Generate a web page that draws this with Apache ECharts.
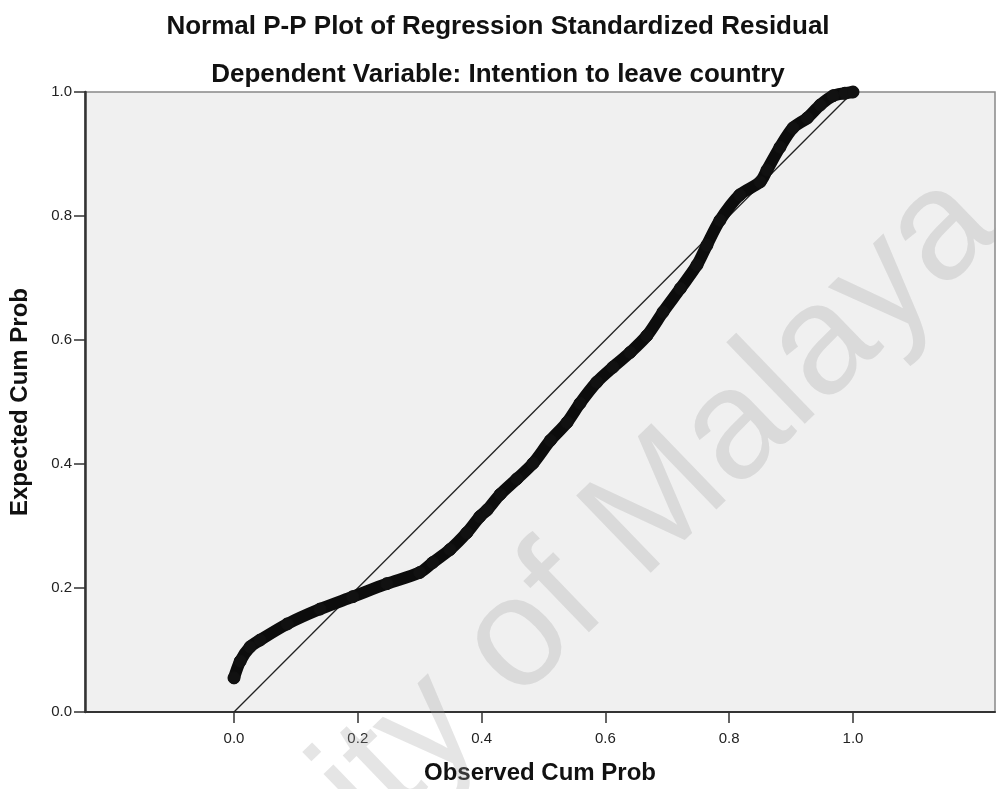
<!DOCTYPE html>
<html>
<head>
<meta charset="utf-8">
<script src="https://cdn.jsdelivr.net/npm/echarts@6/dist/echarts.min.js"></script>
<style>
html,body{margin:0;padding:0;background:#fff;}
#chart{width:996px;height:789px;}
</style>
</head>
<body>
<div id="chart"></div>
<script>
// Observed cumulative probability (x) and expected cumulative probability (y)
const observedCumProb = [0.000,0.010,0.026,0.042,0.086,0.139,0.192,0.247,0.300,0.321,0.349,0.376,0.397,0.409,0.430,0.457,0.483,0.511,0.538,0.559,0.586,0.612,0.640,0.667,0.693,0.721,0.748,0.764,0.785,0.817,0.850,0.861,0.882,0.903,0.926,0.947,0.968,0.987,1.000];
const expectedCumProb = [0.055,0.082,0.105,0.116,0.142,0.166,0.186,0.207,0.225,0.241,0.262,0.289,0.315,0.326,0.351,0.376,0.401,0.438,0.467,0.498,0.532,0.556,0.580,0.607,0.645,0.683,0.721,0.753,0.793,0.834,0.855,0.874,0.911,0.942,0.958,0.979,0.994,0.998,1.000];
const diagonal = [[0,0],[1,1]];
const tickValues = [0.0,0.2,0.4,0.6,0.8,1.0];
const titleText = 'Normal P-P Plot of Regression Standardized Residual';
const subtitleText = 'Dependent Variable: Intention to leave country';
const xName = 'Observed Cum Prob';
const yName = 'Expected Cum Prob';
const watermark = 'University of Malaya';

const pts = observedCumProb.map((x,i)=>[x, expectedCumProb[i]]);
const FONT = '"Liberation Sans", Arial, sans-serif';

const chart = echarts.init(document.getElementById('chart'), null, {renderer:'canvas'});
chart.setOption({
  animation:false,
  backgroundColor:'#ffffff',
  title:[
    {text:titleText, left:'center', top:9, textStyle:{fontFamily:FONT,fontSize:26,fontWeight:'bold',color:'#111'}},
    {text:subtitleText, left:'center', top:57, textStyle:{fontFamily:FONT,fontSize:26,fontWeight:'bold',color:'#111'}}
  ],
  graphic:[{
    type:'text', z:1, silent:true,
    x:-37, y:1177, rotation:44*Math.PI/180,
    style:{text:watermark, font:'156px "Liberation Sans", Arial, sans-serif', fill:'rgba(160,160,160,0.27)', align:'left', verticalAlign:'middle'}
  }],
  grid:{left:85,right:1,top:92,bottom:77,show:true,backgroundColor:'#f0f0f0',borderColor:'#888',borderWidth:1.5,containLabel:false,outerBoundsMode:'none'},
  xAxis:{
    type:'value', min:-0.2407, max:1.2294,
    name:xName, nameLocation:'middle', nameGap:49,
    nameTextStyle:{fontFamily:FONT,fontSize:24,fontWeight:'bold',color:'#111'},
    axisLine:{show:true,onZero:false,lineStyle:{color:'#333',width:2}},
    axisTick:{show:true,length:11,customValues:tickValues,lineStyle:{color:'#333',width:1.5}},
    axisLabel:{customValues:tickValues,formatter:v=>v.toFixed(1),fontFamily:FONT,fontSize:15,color:'#222',margin:19},
    splitLine:{show:false}
  },
  yAxis:{
    type:'value', min:0, max:1, interval:0.2,
    name:yName, nameLocation:'middle', nameGap:53,
    nameTextStyle:{fontFamily:FONT,fontSize:24,fontWeight:'bold',color:'#111'},
    axisLine:{show:true,onZero:false,lineStyle:{color:'#333',width:2.5}},
    axisTick:{show:true,length:11,lineStyle:{color:'#333',width:1.5}},
    axisLabel:{formatter:v=>v.toFixed(1),fontFamily:FONT,fontSize:15,color:'#222',margin:13},
    splitLine:{show:false}
  },
  series:[
    {type:'line', data:diagonal, symbol:'none', lineStyle:{color:'#222',width:1.3}, z:2},
    {type:'line', data:pts, smooth:0.3, symbol:'circle', symbolSize:12, showSymbol:true,
     itemStyle:{color:'#111',borderColor:'#111',borderWidth:1},
     lineStyle:{color:'#0c0c0c',width:12,cap:'round',join:'round'}, z:3}
  ]
});
</script>
</body>
</html>
